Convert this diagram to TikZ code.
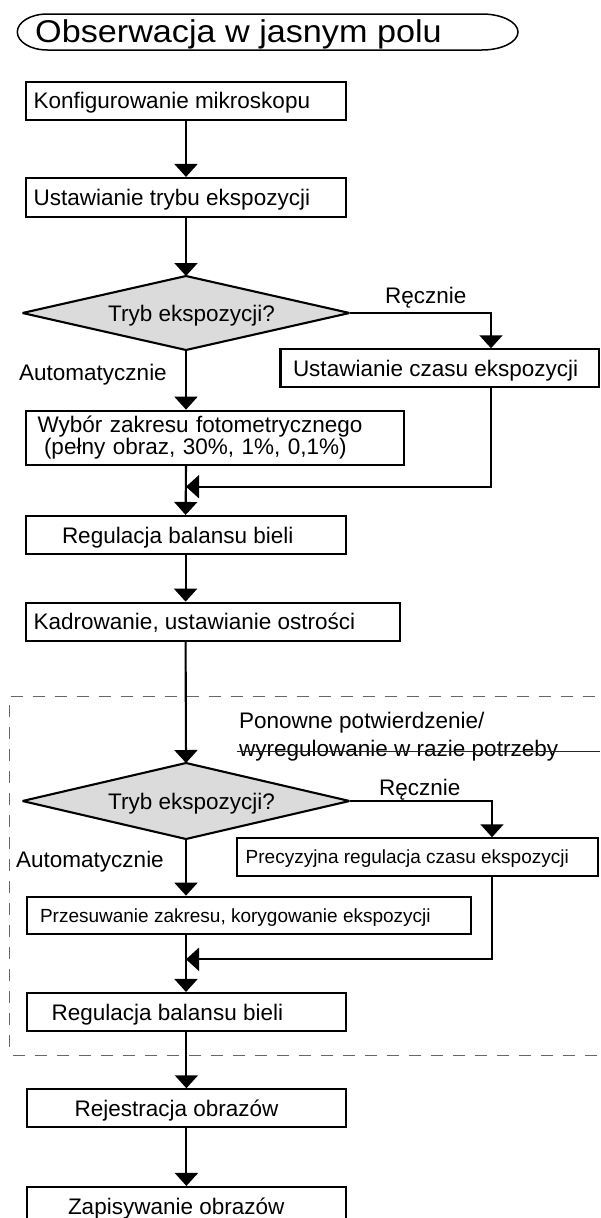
\documentclass[tikz,border=0pt]{standalone}
\usepackage{fontspec}
\setmainfont{Liberation Sans}
\newfontfamily\titlefont[FakeStretch=1.085]{Liberation Sans}
\usetikzlibrary{arrows.meta,shapes.geometric}
\newcommand\mybt[3]{\makebox[#1pt][l]{\hspace*{#2pt}#3}}
\begin{document}
\begin{tikzpicture}[x=1pt,y=-1pt,
  big/.style={font=\fontsize{22.5}{22}\selectfont},
  small/.style={font=\fontsize{19}{20}\selectfont},
  box/.style={draw, line width=2.1pt, fill=white, inner sep=0pt, text height=16.1pt, text depth=0pt},
  dia/.style={diamond, draw, line width=2.1pt, line join=bevel, fill=gray!28, inner sep=0pt, outer sep=0pt, aspect=4.4, text height=16.1pt, text depth=0pt, big},
  arr/.style={line width=2.1pt, -{Triangle[width=23pt,length=13pt]}},
  dashline/.style={draw=black!60, line width=0.9pt, dash pattern=on 12pt off 10pt},
  lbl/.style={anchor=base west, inner sep=0pt, big}]
\useasboundingbox (0,0) rectangle (600,1218);
\fill[white] (0,0) rectangle (600,1218);

% title
\draw[line width=1.5pt] (47.3,14) -- (482,14) arc[start angle=-90, end angle=90, x radius=36, y radius=18] -- (47.3,50) arc[start angle=90, end angle=270, x radius=30, y radius=18] -- cycle;
\node[anchor=base west, inner sep=0pt, font=\titlefont\fontsize{31.5}{32}\selectfont] (title) at (35,42.7) {Obserwacja w jasnym polu};

% dashed region
\coordinate (dtl) at (9.6,696);
\coordinate (dbl) at (9.6,1047);
\coordinate (dtr) at (600,696);
\coordinate (bl2) at (13.4,1055);
\coordinate (br2) at (600,1055);
\draw[dashline] (dbl) -- (dtl) -- (dtr);
\draw[dashline] (bl2) -- (br2);

% nodes
\node[box, big, minimum height=38.3pt] (b1) at (186,100.85) {\mybt{320.8}{8.1}{Konfigurowanie mikroskopu}};
\node[box, big, minimum height=39pt] (b2) at (186,197.5) {\mybt{320.8}{8.1}{Ustawianie trybu ekspozycji}};
\node[dia, minimum width=327pt, minimum height=74pt] (d1) at (186,313) {\hspace*{11pt}Tryb ekspozycji?};
\node[box, big, minimum height=37.7pt] (b6) at (439.75,368.15) {\mybt{318.5}{12.5}{Ustawianie czasu ekspozycji}};
\node[draw, line width=2.1pt, fill=white, inner sep=0pt, minimum height=54.3pt, big, align=left, text width=378.1pt] (b3) at (214.65,437.85) {\hspace*{11.9pt}Wybór zakresu fotometrycznego\\\hspace*{18.4pt}(pełny obraz, 30\%, 1\%, 0,1\%)};
\node[box, big, minimum height=38pt] (b4) at (185.6,535) {\mybt{320}{36.4}{Regulacja balansu bieli}};
\node[box, big, minimum height=38.3pt] (b5) at (212.8,621.85) {\mybt{374.4}{8.1}{Kadrowanie, ustawianie ostrości}};
\node[dia, minimum width=327pt, minimum height=76pt] (d2) at (186,801) {\hspace*{11pt}Tryb ekspozycji?};
\node[box, small, text height=13.6pt, minimum height=37.7pt] (b7) at (417.5,857.15) {\mybt{361}{8.7}{Precyzyjna regulacja czasu ekspozycji}};
\node[box, small, text height=13.6pt, minimum height=37.3pt] (b8) at (248.75,915.35) {\mybt{443.9}{13.2}{Przesuwanie zakresu, korygowanie ekspozycji}};
\node[box, big, minimum height=38pt] (b9) at (186.4,1012) {\mybt{319.2}{24.9}{Regulacja balansu bieli}};
\node[box, big, minimum height=37.7pt] (b10) at (186.4,1108.15) {\mybt{319.2}{47.8}{Rejestracja obrazów}};
\node[box, big, minimum height=38pt] (b11) at (186.4,1206) {\mybt{319.2}{41.2}{Zapisywanie obrazów}};

% labels
\node[lbl] (r1) at (385,303) {Ręcznie};
\node[lbl] (a1) at (19,380.7) {Automatycznie};
\node[lbl] (r2) at (379,795) {Ręcznie};
\node[lbl] (a2) at (16,867) {Automatycznie};
\node[lbl] (p1) at (239,728) {Ponowne potwierdzenie/};
\node[lbl] (p2) at (239,756.7) {wyregulowanie w razie potrzeby};
\coordinate (pl) at (237,751.7);
\coordinate (pr) at (600,751.7);
\draw[line width=0.9pt, black!85] (pl) -- (pr);

% helper coordinates
\coordinate (rx1) at (491,0);
\coordinate (rx2) at (492,0);
\coordinate (m1) at (186,486.7);
\coordinate (m2) at (186,959.3);

% connectors
\draw[arr] (b1.south) -- (b2.north);
\draw[arr] (b2.south) -- (d1.north);
\draw[arr] (d1.east) -| (rx1 |- b6.north);
\draw[arr] (d1.south) -- (d1.south |- b3.north);
\draw[arr] (rx1 |- b6.south) |- (m1);
\draw[arr] (d1.south |- b3.south) -- (b4.north);
\draw[arr] (b4.south) -- (b4.south |- b5.north);
\draw[arr] (b4.south |- b5.south) -- (d2.north);
\draw[arr] (d2.east) -| (rx2 |- b7.north);
\draw[arr] (d2.south) -- (d2.south |- b8.north);
\draw[arr] (rx2 |- b7.south) |- (m2);
\draw[arr] (d2.south |- b8.south) -- (d2.south |- b9.north);
\draw[arr] (b9.south) -- (b10.north);
\draw[arr] (b10.south) -- (b11.north);
\end{tikzpicture}
\end{document}
